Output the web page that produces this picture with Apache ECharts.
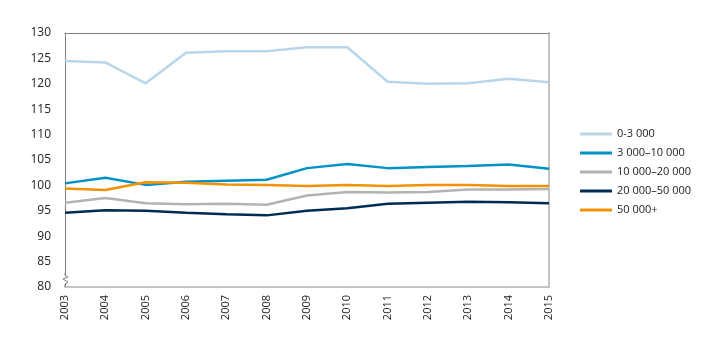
<!DOCTYPE html>
<html><head><meta charset="utf-8">
<script src="https://cdn.jsdelivr.net/npm/echarts@6/dist/echarts.min.js"></script>
<style>html,body{margin:0;padding:0;background:#fff}#c{width:720px;height:341px}</style>
</head><body><div id="c"></div>
<script>
const years = ['2003','2004','2005','2006','2007','2008','2009','2010','2011','2012','2013','2014','2015'];
const seriesNames = ['0-3 000','3 000–10 000','10 000–20 000','20 000–50 000','50 000+'];
const s0_3000 = [124.5,124.2,120.1,126.1,126.4,126.4,127.2,127.2,120.4,120.0,120.1,121.0,120.3];
const s3000_10000 = [100.4,101.5,100.1,100.7,100.9,101.1,103.4,104.2,103.4,103.6,103.8,104.1,103.3];
const s10000_20000 = [96.6,97.5,96.5,96.3,96.4,96.2,98.0,98.7,98.6,98.7,99.2,99.2,99.3];
const s20000_50000 = [94.6,95.1,95.0,94.6,94.3,94.1,95.0,95.5,96.4,96.6,96.8,96.7,96.5];
const s50000plus = [99.4,99.1,100.6,100.5,100.2,100.1,99.9,100.1,99.9,100.1,100.1,99.9,99.9];
const colors = ['#b9d5e9','#0092c7','#b5b3b1','#002c52','#f39200'];
const yMin = 80, yMax = 130, yStep = 5;

const dataSets = [s0_3000, s3000_10000, s10000_20000, s20000_50000, s50000plus];
const font = 'Open Sans';
const chart = echarts.init(document.getElementById('c'));
const option = {
  animation: false,
  textStyle: {fontFamily: font},
  grid: {left: 65, right: 171, top: 33, bottom: 54, containLabel: false},
  legend: {
    orient: 'vertical', left: 580, top: 127, padding: 0,
    icon: 'rect', itemWidth: 32, itemHeight: 3, itemGap: 5,
    textStyle: {fontFamily: font, fontSize: 11, color: '#222', lineHeight: 14},
    data: seriesNames
  },
  xAxis: [{
    type: 'category', data: years, boundaryGap: false,
    axisLine: {lineStyle: {color: '#c4c4c4', width: 2}},
    axisTick: {show: false},
    axisLabel: {rotate: 90, fontSize: 11, color: '#222', margin: 8, fontFamily: font},
    splitLine: {show: false}
  }, {
    type: 'category', data: years, boundaryGap: false, position: 'top',
    axisLine: {lineStyle: {color: '#7f7f7f', width: 1}},
    axisTick: {show: false}, axisLabel: {show: false}
  }],
  yAxis: [{
    type: 'value', min: yMin, max: yMax, interval: yStep,
    axisLine: {show: true, lineStyle: {color: '#7f7f7f', width: 1}},
    axisTick: {show: false},
    axisLabel: {fontSize: 12, color: '#222', margin: 14, fontFamily: font},
    splitLine: {show: false}
  }, {
    type: 'value', min: yMin, max: yMax, interval: yStep, position: 'right',
    axisLine: {show: true, lineStyle: {color: '#c4c4c4', width: 2}},
    axisTick: {show: false}, axisLabel: {show: false}, splitLine: {show: false}
  }],
  series: seriesNames.map((n, i) => ({
    name: n, type: 'line', data: dataSets[i],
    symbol: 'none', lineStyle: {color: colors[i], width: 2.5},
    itemStyle: {color: colors[i]}, z: 2 + i
  }))
};
chart.setOption(option);
// axis-break zigzag near the bottom of the y axis
const p = chart.convertToPixel({xAxisIndex: 0, yAxisIndex: 0}, [0, yMin]);
const x0 = p[0], y0 = p[1];
chart.setOption({graphic: [{
  type: 'polyline', z: 100,
  shape: {points: [[x0, y0-14],[x0, y0-12],[x0+3, y0-10],[x0-2, y0-8],[x0+3, y0-5],[x0, y0-3],[x0, y0]]},
  style: {stroke: '#7f7f7f', lineWidth: 1, fill: null}
}, {
  type: 'rect', z: 99, shape: {x: x0-1, y: y0-11, width: 2, height: 7}, style: {fill: '#fff'}
}]});
</script></body></html>
